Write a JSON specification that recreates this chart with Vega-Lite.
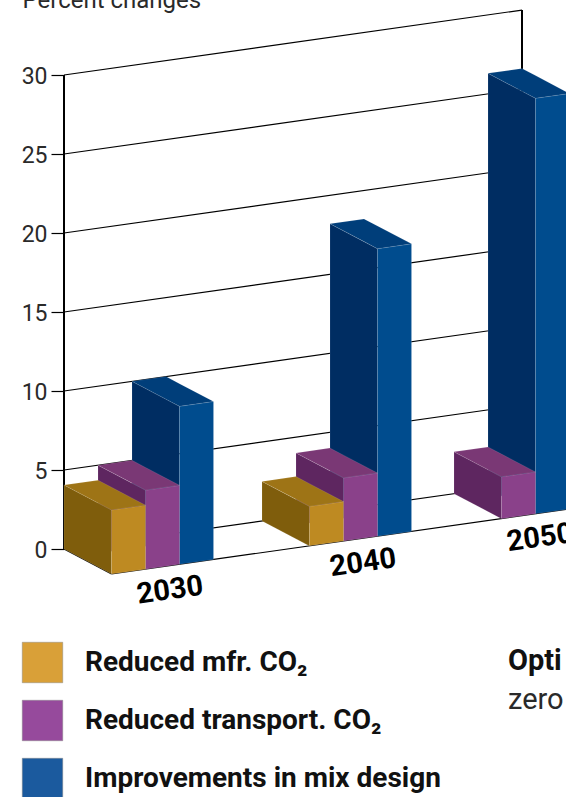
{
"$schema":"https://vega.github.io/schema/vega-lite/v6.json",
"width":566,"height":797,"padding":0,"autosize":"none","background":"white",
"config":{"view":{"stroke":null},"font":"Roboto"},
"layer":[
{"data":{"values":[{"value":0},{"value":5},{"value":10},{"value":15},{"value":20},{"value":25},{"value":30}]},
 "transform":[{"calculate":"datum.value+4.11","as":"end"},{"calculate":"64","as":"a"},{"calculate":"522","as":"b"}],
 "mark":{"type":"rule","color":"#000000","strokeWidth":1.2},
 "encoding":{
  "x":{"field":"a","type":"quantitative","scale":{"domain":[0,566],"nice":false,"zero":false},"axis":null},
  "x2":{"field":"b"},
  "y":{"field":"value","type":"quantitative","scale":{"domain":[-15.696,34.747],"nice":false,"zero":false},
   "axis":{"values":[0,5,10,15,20,25,30],"offset":-64,"domain":false,"grid":false,"tickSize":13,"tickColor":"#000000","tickWidth":1.2,"labelFontSize":23,"labelColor":"#2a2a2a","labelPadding":4,"labelFont":"Roboto","labelFontWeight":400,"labelOffset":1,
    "title":"Percent changes","titleAngle":0,"titleAlign":"left","titleBaseline":"alphabetic","titleX":-42,"titleY":7,"titleFontSize":24,"titleFontWeight":400,"titleColor":"#2a2a2a","titleFont":"Roboto"}},
  "y2":{"field":"end"}}},
{"data":{"values":[{"edge":"back wall","x1":522,"from":4.11,"to":34.11},{"edge":"left wall","x1":64,"from":0,"to":30}]},
 "mark":{"type":"rule","color":"#000000","strokeWidth":2},
 "encoding":{"x":{"field":"x1","type":"quantitative"},"y":{"field":"from","type":"quantitative"},"y2":{"field":"to"}}},
{"data":{"values":[{"edge":"floor side","x1":64,"x2":111.5,"from":0,"to":-1.58},{"edge":"floor front","x1":111.5,"x2":570,"from":-1.58,"to":2.54}]},
 "mark":{"type":"rule","color":"#000000","strokeWidth":1.2},
 "encoding":{"x":{"field":"x1","type":"quantitative"},"x2":{"field":"x2"},"y":{"field":"from","type":"quantitative"},"y2":{"field":"to"}}},
{"data":{"values":[
 {"year":"2050","series":"Improvements in mix design","value":26.3},
 {"year":"2050","series":"Reduced transport. CO₂","value":2.65},
 {"year":"2040","series":"Improvements in mix design","value":18.2},
 {"year":"2040","series":"Reduced transport. CO₂","value":4.0},
 {"year":"2040","series":"Reduced mfr. CO₂","value":2.5},
 {"year":"2030","series":"Improvements in mix design","value":10.0},
 {"year":"2030","series":"Reduced transport. CO₂","value":5.0},
 {"year":"2030","series":"Reduced mfr. CO₂","value":4.05}]},
 "transform":[
  {"calculate":"{'2030':64,'2040':262,'2050':420}[datum.year]+{'Reduced mfr. CO₂':0,'Reduced transport. CO₂':34,'Improvements in mix design':68}[datum.series]","as":"x0"},
  {"calculate":"0.00898*(datum.x0-64)","as":"base"},
  {"calculate":"['side','front','top']","as":"face"},
  {"flatten":["face"]},
  {"calculate":"datum.face=='side'?[0,47.5]:datum.face=='front'?[47.5,81.5]:[0,34,47.5,81.5]","as":"p"},
  {"flatten":["p"]},
  {"calculate":"datum.x0+datum.p","as":"px"},
  {"calculate":"datum.face=='side'?datum.value+datum.base-0.0333*datum.p:datum.face=='front'?datum.value+datum.base+0.00898*(datum.p-47.5)-1.58:(datum.p<=34?datum.value+datum.base+0.00898*datum.p:datum.value+datum.base+0.00898*34-0.0333*(datum.p-34))","as":"upper"},
  {"calculate":"datum.face=='side'?datum.base-0.0333*datum.p:datum.face=='front'?datum.base+0.00898*(datum.p-47.5)-1.58:(datum.p<=47.5?datum.value+datum.base-0.0333*datum.p:datum.value+datum.base+0.00898*(datum.p-47.5)-1.58)","as":"lower"},
  {"calculate":"datum.series+' '+datum.face","as":"shade"},
  {"calculate":"datum.year+datum.series+datum.face","as":"id"}
 ],
 "mark":{"type":"area","orient":"vertical","stroke":"#ffffff","strokeOpacity":0.18,"strokeWidth":0.6},
 "encoding":{
  "x":{"field":"px","type":"quantitative"},
  "y":{"field":"upper","type":"quantitative","stack":null},
  "y2":{"field":"lower"},
  "detail":{"field":"id"},
  "color":{"field":"shade","type":"nominal","sort":null,
   "scale":{"domain":["Reduced mfr. CO₂","Reduced transport. CO₂","Improvements in mix design",
     "Reduced mfr. CO₂ front","Reduced mfr. CO₂ side","Reduced mfr. CO₂ top",
     "Reduced transport. CO₂ front","Reduced transport. CO₂ side","Reduced transport. CO₂ top",
     "Improvements in mix design front","Improvements in mix design side","Improvements in mix design top"],
    "range":["#D9A038","#964A9C","#1B5A9E",
     "#BE8A22","#7F5D0C","#9E7416",
     "#8A418A","#5E2660","#7A3875",
     "#004C8E","#002D62","#003E7A"]},
   "legend":{"values":["Reduced mfr. CO₂","Reduced transport. CO₂","Improvements in mix design"],
    "title":null,"orient":"none","legendX":22,"legendY":642,"padding":0,
    "symbolType":"square","symbolSize":1640,"symbolStrokeWidth":0.5,"symbolStrokeColor":"#888888",
    "rowPadding":15,"labelFontSize":28,"labelFontWeight":"bold","labelColor":"#111111","labelFont":"Roboto","labelOffset":22,"labelLimit":500}}}},
{"data":{"values":[{"year":"2030","center":170},{"year":"2040","center":363},{"year":"2050","center":540}]},
 "transform":[{"calculate":"-2.6+0.00898*(datum.center-170)","as":"level"}],
 "mark":{"type":"text","angle":352,"fontSize":29,"fontWeight":"bold","color":"#000000","align":"center","baseline":"middle","font":"Roboto"},
 "encoding":{"x":{"field":"center","type":"quantitative"},"y":{"field":"level","type":"quantitative"},"text":{"field":"year"}}},
{"data":{"values":[{"label":"Opti","at":508,"level":-7.66}]},
 "mark":{"type":"text","fontSize":29,"fontWeight":"bold","color":"#111111","align":"left","baseline":"alphabetic","font":"Roboto"},
 "encoding":{"x":{"field":"at","type":"quantitative"},"y":{"field":"level","type":"quantitative"},"text":{"field":"label"}}},
{"data":{"values":[{"label":"zero","at":508,"level":-10.1}]},
 "mark":{"type":"text","fontSize":29,"fontWeight":400,"color":"#2a2a2a","align":"left","baseline":"alphabetic","font":"Roboto"},
 "encoding":{"x":{"field":"at","type":"quantitative"},"y":{"field":"level","type":"quantitative"},"text":{"field":"label"}}}
]
}
